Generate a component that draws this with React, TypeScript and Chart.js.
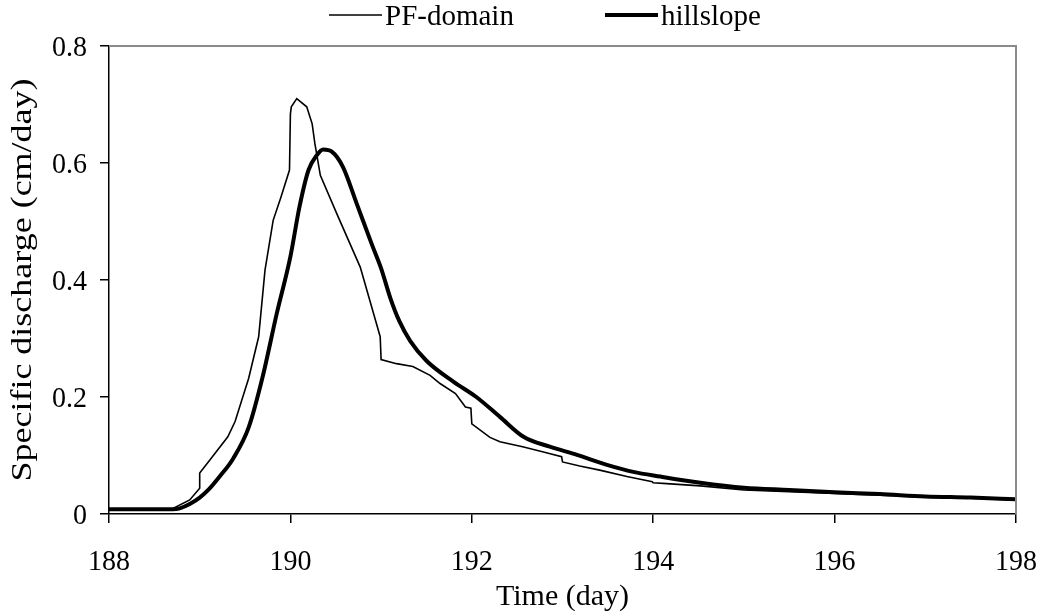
import React, { useEffect, useRef } from "react";
import { Chart, registerables } from "chart.js";

Chart.register(...registerables);

// ---- data ----
const pfDays = [188, 188.4, 188.7, 188.89, 189.0, 189.0, 189.11, 189.31, 189.39, 189.54, 189.65, 189.72, 189.81, 189.89, 189.99, 190.0, 190.01, 190.07, 190.18, 190.24, 190.27, 190.33, 190.51, 190.77, 190.99, 191.0, 191.17, 191.35, 191.54, 191.65, 191.82, 191.93, 191.99, 192.0, 192.2, 192.31, 192.56, 192.79, 192.99, 193.0, 193.19, 193.41, 193.71, 193.99, 194.0, 194.15, 194.52, 195.0, 195.5, 196.0, 196.5, 197.0, 197.5, 198.0];
const pfValues = [0.008, 0.008, 0.009, 0.024, 0.044, 0.070, 0.092, 0.132, 0.158, 0.232, 0.303, 0.417, 0.502, 0.539, 0.588, 0.684, 0.696, 0.710, 0.696, 0.667, 0.633, 0.579, 0.514, 0.422, 0.303, 0.264, 0.257, 0.252, 0.237, 0.223, 0.206, 0.183, 0.181, 0.154, 0.131, 0.1235, 0.115, 0.106, 0.098, 0.089, 0.082, 0.075, 0.064, 0.055, 0.0535, 0.052, 0.048, 0.041, 0.038, 0.035, 0.032, 0.029, 0.027, 0.024];

const hsDays = [188, 188.4, 188.7, 188.78, 188.9, 189.0, 189.1, 189.22, 189.37, 189.54, 189.69, 189.85, 190.0, 190.1, 190.2, 190.29, 190.36, 190.46, 190.58, 190.73, 190.9, 191.0, 191.1, 191.2, 191.32, 191.5, 191.8, 192.05, 192.31, 192.57, 192.86, 193.16, 193.49, 193.78, 194.08, 194.52, 195.0, 195.5, 196.0, 196.5, 197.0, 197.5, 198.0];
const hsValues = [0.008, 0.008, 0.008, 0.0097, 0.018, 0.028, 0.042, 0.064, 0.095, 0.148, 0.232, 0.343, 0.44, 0.525, 0.588, 0.613, 0.623, 0.619, 0.593, 0.531, 0.46, 0.42, 0.37, 0.33, 0.296, 0.262, 0.226, 0.2, 0.166, 0.132, 0.115, 0.101, 0.084, 0.072, 0.064, 0.0535, 0.045, 0.041, 0.037, 0.034, 0.03, 0.028, 0.025];

const seriesLabels = ["PF-domain", "hillslope"];
const xTicks = [188, 190, 192, 194, 196, 198];
const yTicks = [0, 0.2, 0.4, 0.6, 0.8];
const xTitle = "Time (day)";
const yTitle = "Specific discharge (cm/day)";

const FONT = "'Liberation Serif', 'Times New Roman', serif";

const toPoints = (xs: number[], ys: number[]) => xs.map((x, i) => ({ x, y: ys[i] }));

// draws text, optionally stretched vertically and/or rotated
function drawText(
  ctx: CanvasRenderingContext2D,
  text: string,
  x: number,
  y: number,
  align: CanvasTextAlign,
  size: number,
  stretch = 1,
  rotate = false
) {
  ctx.save();
  ctx.font = `${size}px ${FONT}`;
  ctx.translate(x, y);
  ctx.scale(1, stretch);
  if (rotate) ctx.rotate(-Math.PI / 2);
  ctx.textAlign = align;
  ctx.textBaseline = "alphabetic";
  ctx.fillText(text, 0, 0);
  ctx.restore();
}

const framePlugin = {
  id: "frame",
  afterDatasetsDraw(chart: any) {
    const { ctx, chartArea } = chart;
    ctx.save();
    ctx.strokeStyle = "#8a8a8a";
    ctx.lineWidth = 2;
    ctx.beginPath();
    ctx.moveTo(chartArea.left, chartArea.top);
    ctx.lineTo(chartArea.right, chartArea.top);
    ctx.lineTo(chartArea.right, chartArea.bottom);
    ctx.stroke();
    ctx.restore();
  },
};

const textPlugin = {
  id: "texts",
  afterDraw(chart: any, _args: any, o: any) {
    const { ctx, chartArea } = chart;
    const xs = chart.scales.x;
    const ys = chart.scales.y;
    ctx.save();
    ctx.fillStyle = "#000";
    xs.ticks.forEach((t: any) => {
      drawText(ctx, String(t.label), xs.getPixelForValue(t.value), o.xLabelBaseline, "center", o.tickSize, o.tickStretch);
    });
    ys.ticks.forEach((t: any) => {
      drawText(ctx, String(t.label), o.yLabelRight, ys.getPixelForValue(t.value) + o.yLabelDrop, "right", o.tickSize, o.tickStretch);
    });
    drawText(ctx, xTitle, (chartArea.left + chartArea.right) / 2, o.xTitleBaseline, "center", o.titleSize);
    drawText(ctx, yTitle, o.yTitleBaseline, (chartArea.top + chartArea.bottom) / 2, "center", o.titleSize, o.yTitleStretch, true);

    // legend
    chart.data.datasets.forEach((ds: any, i: number) => {
      const x0 = o.legendStarts[i];
      ctx.strokeStyle = ds.borderColor;
      ctx.lineWidth = ds.borderWidth;
      ctx.beginPath();
      ctx.moveTo(x0, o.legendY);
      ctx.lineTo(x0 + o.legendLine, o.legendY);
      ctx.stroke();
      drawText(ctx, ds.label, x0 + o.legendLine + o.legendGap, o.legendBaseline, "left", o.legendSize);
    });
    ctx.restore();
  },
};

export default function App() {
  const ref = useRef<HTMLCanvasElement | null>(null);

  useEffect(() => {
    document.body.style.margin = "0";
    const canvas = ref.current;
    if (!canvas) return;
    const chart = new Chart(canvas, {
      type: "line",
      data: {
        datasets: [
          {
            label: seriesLabels[0],
            data: toPoints(pfDays, pfValues),
            borderColor: "#000",
            borderWidth: 1.6,
            pointRadius: 0,
            tension: 0,
            fill: false,
          },
          {
            label: seriesLabels[1],
            data: toPoints(hsDays, hsValues),
            borderColor: "#000",
            borderWidth: 4,
            pointRadius: 0,
            cubicInterpolationMode: "monotone",
            fill: false,
          },
        ],
      },
      options: {
        animation: false,
        responsive: false,
        maintainAspectRatio: false,
        layout: { padding: { top: 46, right: 23, left: 0, bottom: 0 } },
        plugins: {
          legend: { display: false },
          tooltip: { enabled: false },
          texts: {
            tickSize: 28,
            tickStretch: 1.05,
            titleSize: 30,
            legendSize: 29,
            yTitleStretch: 1.2,
            xLabelBaseline: 570,
            yLabelRight: 87,
            yLabelDrop: 10,
            xTitleBaseline: 605,
            yTitleBaseline: 31,
            legendStarts: [329, 605],
            legendLine: 53,
            legendGap: 3,
            legendY: 15,
            legendBaseline: 25,
          },
        } as any,
        scales: {
          x: {
            type: "linear",
            min: xTicks[0],
            max: xTicks[xTicks.length - 1],
            afterBuildTicks: (s: any) => {
              s.ticks = xTicks.map((v) => ({ value: v }));
            },
            afterFit: (s: any) => {
              s.height = 102;
            },
            ticks: {
              display: false,
              autoSkip: false,
              callback: (v: any) => String(v),
            },
            grid: { drawOnChartArea: false, drawTicks: true, tickLength: 9, color: "#000", lineWidth: 1.5 },
            border: { display: true, color: "#000", width: 1.5 },
          },
          y: {
            type: "linear",
            min: yTicks[0],
            max: yTicks[yTicks.length - 1],
            afterBuildTicks: (s: any) => {
              s.ticks = yTicks.map((v) => ({ value: v }));
            },
            afterFit: (s: any) => {
              s.width = 109;
            },
            ticks: {
              display: false,
              callback: (v: any) => String(Math.round(v * 10) / 10),
            },
            grid: { drawOnChartArea: false, drawTicks: true, tickLength: 9, color: "#000", lineWidth: 1.5 },
            border: { display: true, color: "#000", width: 1.5 },
          },
        },
      },
      plugins: [framePlugin, textPlugin],
    });
    return () => chart.destroy();
  }, []);

  return (
    <div style={{ width: 1039, height: 616, background: "#fff" }}>
      <canvas ref={ref} width={1039} height={616} style={{ display: "block" }} />
    </div>
  );
}
